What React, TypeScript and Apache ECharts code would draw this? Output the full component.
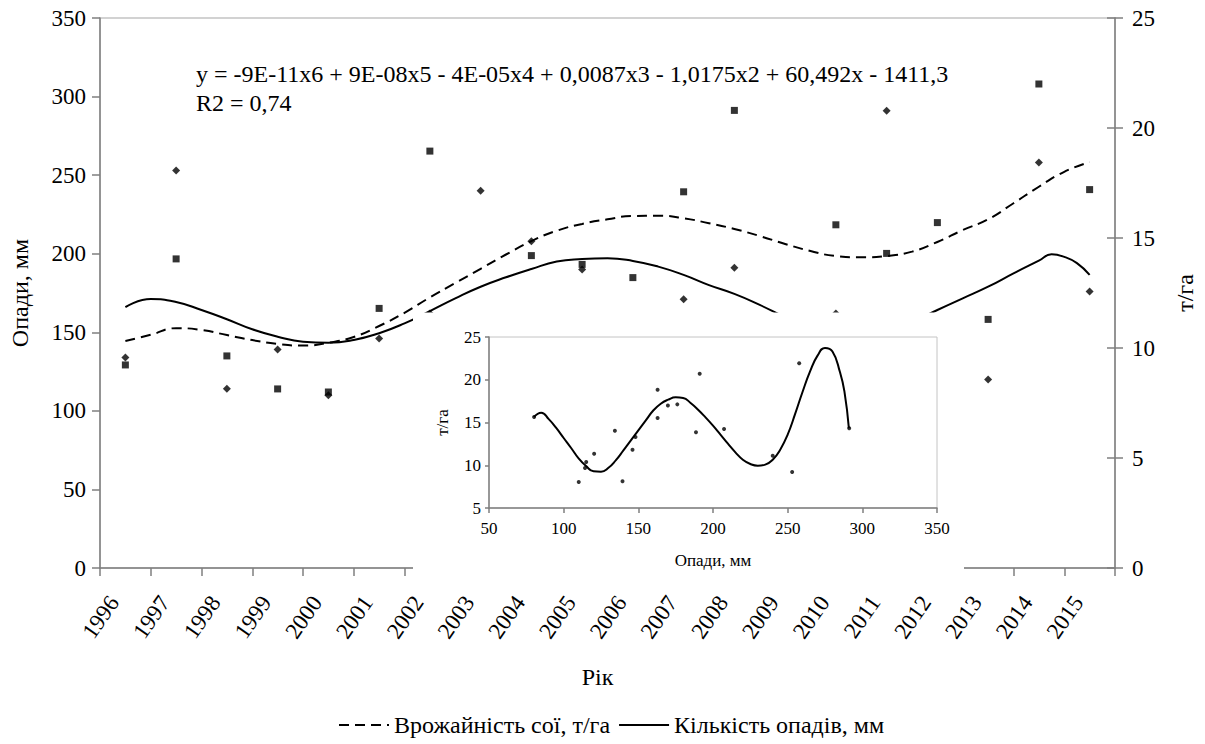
import React, { useEffect, useRef } from "react";
import * as echarts from "echarts";

// Years on the main category axis
const years = [
  "1996", "1997", "1998", "1999", "2000", "2001", "2002", "2003", "2004", "2005",
  "2006", "2007", "2008", "2009", "2010", "2011", "2012", "2013", "2014", "2015",
];

// Seasonal precipitation, mm (diamonds, left axis)
const precipitationMm = [
  134, 253, 114, 139, 110, 146, 162, 240, 208, 190,
  148, 171, 191, 115, 162, 291, 80, 120, 258, 176,
];

// Soybean yield, t/ha (squares, right axis)
const soyYieldTha = [
  9.23, 14.05, 9.64, 8.14, 8.0, 11.8, 18.95, 11.12, 14.2, 13.8,
  13.2, 17.1, 20.8, 10.4, 15.6, 14.3, 15.7, 11.3, 22.0, 17.2,
];

// Polynomial trend of yield, sampled along the year index (0 = 1996)
const yieldTrendPos = [
  0, 0.5, 1, 1.5, 2, 2.5, 3, 3.5, 4, 4.5, 5, 5.5, 6, 6.5, 7, 7.5, 8, 8.5, 9, 9.5,
  10, 10.5, 11, 11.5, 12, 12.5, 13, 13.5, 14, 14.5, 15, 15.5, 16, 16.5, 17, 17.5, 18, 18.5, 19,
];
const yieldTrendTha = [
  10.32, 10.6, 10.9, 10.82, 10.59, 10.36, 10.18, 10.11, 10.24, 10.5, 11.0, 11.6, 12.3, 12.95, 13.6, 14.25, 14.86, 15.33, 15.64, 15.85,
  16.0, 16.01, 15.9, 15.67, 15.41, 15.09, 14.73, 14.41, 14.18, 14.12, 14.18, 14.38, 14.82, 15.36, 15.85, 16.58, 17.33, 18.01, 18.45,
];

// Polynomial trend of precipitation, sampled along the year index
const precipTrendPos = [
  0, 0.5, 1, 1.5, 2, 2.5, 3, 3.5, 4, 4.5, 5, 5.5, 6, 6.5, 7, 7.5, 8, 8.5, 9, 9.5,
  10, 10.5, 11, 11.5, 12, 12.5, 13, 13.5, 14, 14.5, 15, 15.5, 16, 16.5, 17, 17.5, 18, 18.25, 18.5, 18.75, 19,
];
const precipTrendMm = [
  166, 171.2, 169.3, 164.2, 158.3, 151.9, 147.2, 144, 143.4, 145.1, 149.4, 155.7, 163.5, 171.6, 179, 185, 190.3, 195, 196.6, 197.1,
  195.4, 191.8, 186.5, 180, 174.4, 167.4, 159.7, 153.4, 149.5, 148.3, 150.8, 156.5, 164.2, 171.6, 179, 187.5, 195.6, 199.6, 198, 194, 186.5,
];

// Inset: yield against precipitation
const insetPrecipMm = [
  80.2, 110.1, 114.3, 115.1, 120.4, 134.3, 139.4, 146.1, 148.1, 162.9,
  162.9, 169.8, 176.1, 188.6, 191.1, 207.4, 240.0, 253.0, 257.7, 291.2,
];
const insetYieldTha = [
  15.64, 8.04, 9.68, 10.38, 11.35, 14.04, 8.12, 11.82, 13.3, 18.84,
  15.53, 17.0, 17.12, 13.85, 20.7, 14.24, 11.12, 9.21, 21.92, 14.32,
];

// Inset: 6th-order polynomial fit curve
const insetFitMm = [
  80, 85, 90, 95, 100, 105, 110, 115, 120, 125, 130, 135, 140, 145, 150, 155, 160, 165, 170, 175,
  180, 185, 190, 195, 200, 205, 210, 215, 220, 225, 230, 235, 240, 245, 250, 255, 260, 265, 270, 275,
  280, 285, 288, 291,
];
const insetFitTha = [
  15.64, 16.15, 15.4, 14.36, 13.19, 12.02, 10.8, 9.9, 9.3, 9.25, 9.7, 10.6, 11.74, 12.9, 14.08, 15.25, 16.4, 17.2, 17.67, 17.94,
  17.87, 17.28, 16.5, 15.6, 14.63, 13.58, 12.52, 11.51, 10.65, 10.15, 9.95, 10.07, 10.65, 11.82, 13.58, 16.0, 18.6, 20.98, 22.82, 23.71,
  23.3, 20.9, 18.65, 14.32,
];

const equationText =
  "y = -9E-11x6 + 9E-08x5 - 4E-05x4 + 0,0087x3 - 1,0175x2 + 60,492x - 1411,3";
const r2Text = "R2 = 0,74";

const yieldName = "Врожайність сої, т/га";
const precipName = "Кількість опадів, мм";

const FONT = "Liberation Serif";
const AXIS_GRAY = "#7f7f7f";

const zip = (a: number[], b: number[]) => a.map((v, i) => [v, b[i]]);

export default function App() {
  const ref = useRef<HTMLDivElement>(null);

  useEffect(() => {
    if (!ref.current) return;
    const chart = echarts.init(ref.current, undefined, { renderer: "svg" });

    const axisLine = { show: true, onZero: false, lineStyle: { color: AXIS_GRAY, width: 1.5 } };
    const tickStyle = { color: AXIS_GRAY, width: 1.5 };

    const option: echarts.EChartsOption = {
      animation: false,
      backgroundColor: "#ffffff",
      textStyle: { fontFamily: FONT, color: "#000" },
      grid: [
        {
          left: 100, top: 18, right: 84, bottom: 176,
          show: true, borderColor: "#c4c4c4", borderWidth: 1.5, z: 0,
        },
        {
          left: 489, top: 337, right: 268, bottom: 236,
          show: true, borderColor: "#c4c4c4", borderWidth: 1, z: 20,
        },
      ],
      xAxis: [
        {
          type: "category",
          gridIndex: 0,
          data: years,
          boundaryGap: true,
          axisLine,
          axisTick: { show: true, interval: 0, length: 8, lineStyle: tickStyle },
          axisLabel: {
            interval: 0, rotate: 55, fontSize: 23, color: "#000",
            fontFamily: FONT, margin: 14, padding: [0, 20, 0, 0],
          },
          splitLine: { show: false },
          name: "Рік",
          nameLocation: "middle",
          nameGap: 97,
          nameTextStyle: { fontSize: 24, color: "#000", fontFamily: FONT, padding: [0, 20, 0, 0] },
        },
        {
          type: "value",
          gridIndex: 0,
          min: -0.5,
          max: 19.5,
          show: false,
        },
        {
          type: "value",
          gridIndex: 1,
          min: 50,
          max: 350,
          interval: 50,
          z: 20,
          axisLine,
          axisTick: { show: true, length: 5, lineStyle: tickStyle },
          axisLabel: { fontSize: 17, color: "#000", fontFamily: FONT, margin: 12 },
          splitLine: { show: false },
          name: "Опади, мм",
          nameLocation: "middle",
          nameGap: 44,
          nameTextStyle: { fontSize: 17, color: "#000", fontFamily: FONT },
        },
      ],
      yAxis: [
        {
          type: "value",
          gridIndex: 0,
          position: "left",
          min: 0,
          max: 350,
          interval: 50,
          axisLine,
          axisTick: { show: true, length: 8, lineStyle: tickStyle },
          axisLabel: { fontSize: 23, color: "#000", fontFamily: FONT, margin: 14 },
          splitLine: { show: false },
          name: "Опади, мм",
          nameLocation: "middle",
          nameRotate: 90,
          nameGap: 68,
          nameTextStyle: { fontSize: 24, color: "#000", fontFamily: FONT },
        },
        {
          type: "value",
          gridIndex: 0,
          position: "right",
          min: 0,
          max: 25,
          interval: 5,
          axisLine,
          axisTick: { show: true, length: 8, lineStyle: tickStyle },
          axisLabel: { fontSize: 23, color: "#000", fontFamily: FONT, margin: 17 },
          splitLine: { show: false },
          name: "т/га",
          nameLocation: "middle",
          nameRotate: 90,
          nameGap: 58,
          nameTextStyle: { fontSize: 24, color: "#000", fontFamily: FONT },
        },
        {
          // inner half of the crossing ticks on the right axis
          type: "value",
          gridIndex: 0,
          position: "right",
          min: 0,
          max: 25,
          interval: 5,
          axisLine: { show: false, onZero: false },
          axisTick: { show: true, inside: true, length: 8, lineStyle: tickStyle },
          axisLabel: { show: false },
          splitLine: { show: false },
        },
        {
          type: "value",
          gridIndex: 1,
          min: 5,
          max: 25,
          interval: 5,
          z: 20,
          axisLine,
          axisTick: { show: true, length: 4, lineStyle: tickStyle },
          axisLabel: { fontSize: 17, color: "#000", fontFamily: FONT, margin: 8 },
          splitLine: { show: false },
          name: "т/га",
          nameLocation: "middle",
          nameRotate: 90,
          nameGap: 38,
          nameTextStyle: { fontSize: 17, color: "#000", fontFamily: FONT },
        },
      ],
      legend: {
        data: [yieldName, precipName],
        left: 333,
        top: 708,
        itemWidth: 50,
        itemHeight: 14,
        itemGap: 8,
        itemStyle: { opacity: 0 },
        textStyle: { fontSize: 24, color: "#000", fontFamily: FONT },
      },
      graphic: [
        {
          type: "rect",
          z: 10,
          shape: { x: 413, y: 312.5, width: 551, height: 268 },
          style: { fill: "#ffffff" },
          silent: true,
        },
        {
          type: "text",
          z: 30,
          x: 196,
          y: 74,
          style: {
            text: equationText,
            fill: "#000",
            font: `24px ${FONT}`,
            verticalAlign: "middle",
          },
        },
        {
          type: "text",
          z: 30,
          x: 196,
          y: 103,
          style: {
            text: r2Text,
            fill: "#000",
            font: `24px ${FONT}`,
            verticalAlign: "middle",
          },
        },
      ],
      series: [
        {
          name: yieldName,
          type: "line",
          xAxisIndex: 1,
          yAxisIndex: 1,
          data: zip(yieldTrendPos, yieldTrendTha),
          smooth: true,
          symbol: "none",
          lineStyle: { color: "#000", width: 2, type: [10, 6] },
          itemStyle: { color: "#000" },
          z: 2,
        },
        {
          name: precipName,
          type: "line",
          xAxisIndex: 1,
          yAxisIndex: 0,
          data: zip(precipTrendPos, precipTrendMm),
          smooth: true,
          symbol: "none",
          lineStyle: { color: "#000", width: 2, type: "solid" },
          itemStyle: { color: "#000" },
          z: 2,
        },
        {
          name: "precip-points",
          type: "scatter",
          xAxisIndex: 0,
          yAxisIndex: 0,
          data: precipitationMm,
          symbol: "diamond",
          symbolSize: 8,
          itemStyle: { color: "#000" },
          z: 3,
        },
        {
          name: "yield-points",
          type: "scatter",
          xAxisIndex: 0,
          yAxisIndex: 1,
          data: soyYieldTha,
          symbol: "rect",
          symbolSize: 7,
          itemStyle: { color: "#000" },
          z: 3,
        },
        {
          name: "inset-fit",
          type: "line",
          xAxisIndex: 2,
          yAxisIndex: 3,
          data: zip(insetFitMm, insetFitTha),
          smooth: true,
          symbol: "none",
          lineStyle: { color: "#000", width: 2 },
          z: 21,
        },
        {
          name: "inset-points",
          type: "scatter",
          xAxisIndex: 2,
          yAxisIndex: 3,
          data: zip(insetPrecipMm, insetYieldTha),
          symbol: "circle",
          symbolSize: 4,
          itemStyle: { color: "#000" },
          z: 22,
        },
      ],
    };

    chart.setOption(option);
    return () => chart.dispose();
  }, []);

  return (
    <div
      ref={ref}
      style={{ position: "absolute", left: 0, top: 0, width: 1205, height: 744, background: "#fff" }}
    />
  );
}
